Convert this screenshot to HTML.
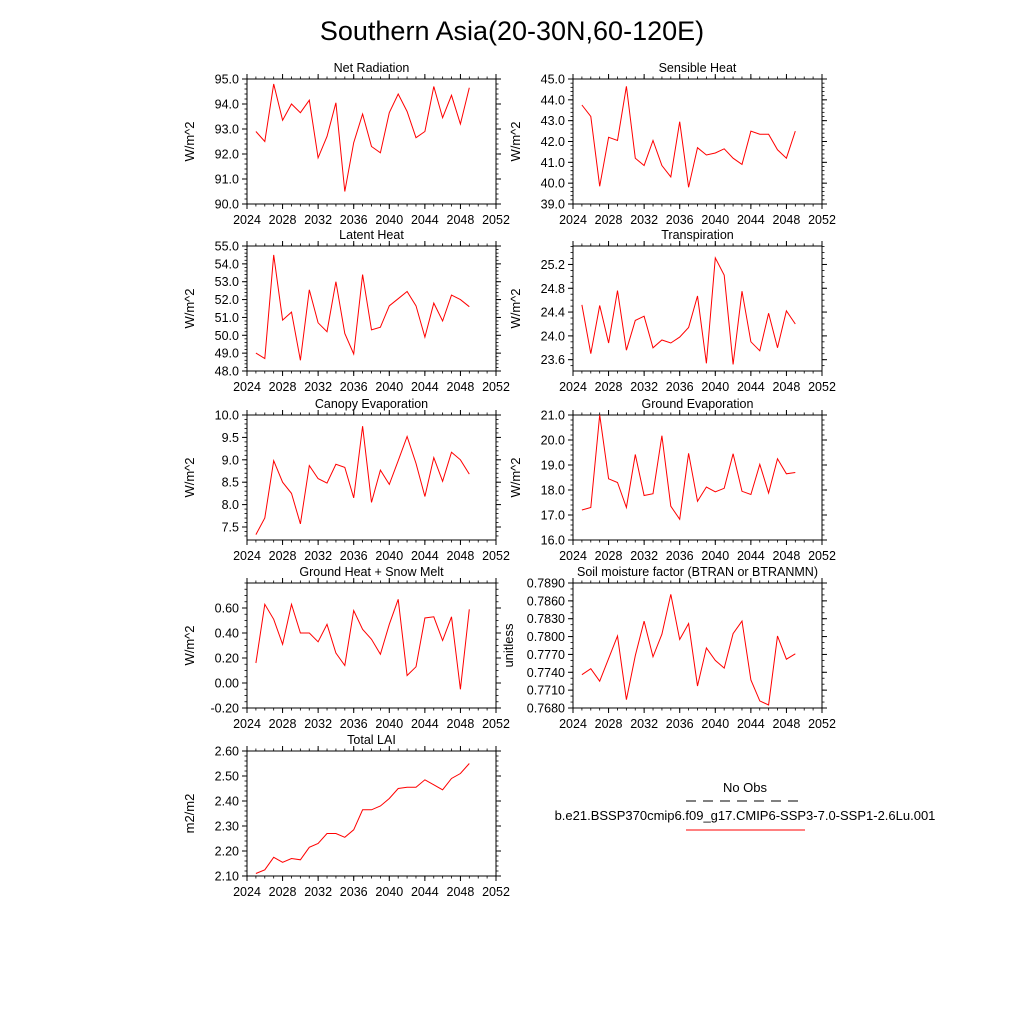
<!DOCTYPE html>
<html><head><meta charset="utf-8"><style>
html,body{margin:0;padding:0;background:#fff;}
svg{display:block;font-family:"Liberation Sans",sans-serif;}
</style></head><body>
<svg id="chart" width="1024" height="1024" viewBox="0 0 1024 1024" xmlns="http://www.w3.org/2000/svg">
<rect width="1024" height="1024" fill="#fff"/>
<text x="512" y="40" font-size="27" text-anchor="middle">Southern Asia(20-30N,60-120E)</text>
<g>
<text x="745" y="792" font-size="13" text-anchor="middle">No Obs</text>
<line x1="686" y1="801" x2="805" y2="801" stroke="#000" stroke-width="1" stroke-dasharray="10,7"/>
<text x="745" y="820" font-size="13" text-anchor="middle">b.e21.BSSP370cmip6.f09_g17.CMIP6-SSP3-7.0-SSP1-2.6Lu.001</text>
<line x1="686" y1="830" x2="805" y2="830" stroke="red" stroke-width="1"/>
</g>
</svg>
<script>
const years = [2025,2026,2027,2028,2029,2030,2031,2032,2033,2034,2035,2036,2037,2038,2039,2040,2041,2042,2043,2044,2045,2046,2047,2048,2049];
const xTicks = [2024,2028,2032,2036,2040,2044,2048,2052];
const netRad = [92.9,92.5,94.8,93.35,94.0,93.65,94.15,91.85,92.7,94.05,90.5,92.45,93.6,92.3,92.05,93.65,94.4,93.7,92.65,92.9,94.7,93.45,94.35,93.2,94.65];
const sensible = [43.75,43.2,39.85,42.2,42.05,44.65,41.2,40.85,42.05,40.85,40.3,42.95,39.8,41.7,41.35,41.45,41.65,41.2,40.9,42.5,42.35,42.35,41.6,41.2,42.5];
const latent = [49.0,48.7,54.5,50.85,51.3,48.6,52.55,50.7,50.2,53.0,50.1,48.95,53.4,50.3,50.45,51.65,52.05,52.45,51.65,49.9,51.8,50.8,52.25,52.0,51.6];
const transp = [24.52,23.70,24.51,23.88,24.76,23.76,24.26,24.33,23.80,23.93,23.88,23.98,24.14,24.67,23.54,25.31,25.02,23.52,24.75,23.90,23.75,24.38,23.80,24.42,24.20];
const canopy = [7.33,7.7,8.98,8.5,8.25,7.57,8.87,8.58,8.48,8.9,8.83,8.15,9.75,8.05,8.77,8.45,8.98,9.52,8.92,8.18,9.05,8.52,9.17,9.0,8.68];
const groundEvap = [17.2,17.3,21.0,18.45,18.3,17.3,19.42,17.78,17.85,20.17,17.35,16.83,19.47,17.55,18.12,17.93,18.07,19.45,17.95,17.82,19.03,17.88,19.25,18.65,18.7];
const groundHeat = [0.16,0.63,0.51,0.31,0.63,0.40,0.40,0.33,0.47,0.24,0.14,0.58,0.43,0.35,0.23,0.47,0.67,0.06,0.13,0.52,0.53,0.34,0.53,-0.05,0.59];
const btran = [0.7736,0.7746,0.7725,0.7763,0.7801,0.7694,0.7768,0.7826,0.7766,0.7804,0.7871,0.7795,0.7822,0.7717,0.7781,0.7760,0.7747,0.7805,0.7826,0.7727,0.7692,0.7685,0.7801,0.7762,0.7771];
const lai = [2.11,2.125,2.175,2.155,2.17,2.165,2.215,2.23,2.27,2.27,2.255,2.285,2.365,2.365,2.38,2.41,2.45,2.455,2.455,2.485,2.465,2.445,2.49,2.51,2.55];
const netRadTicks = [90,91,92,93,94,95];
const sensTicks = [39,40,41,42,43,44,45];
const latTicks = [48,49,50,51,52,53,54,55];
const trTicks = [23.6,24.0,24.4,24.8,25.2];
const canTicks = [7.5,8.0,8.5,9.0,9.5,10.0];
const geTicks = [16,17,18,19,20,21];
const ghTicks = [-0.2,0,0.2,0.4,0.6];
const btTicks = [0.768,0.771,0.774,0.777,0.780,0.783,0.786,0.789];
const laiTicks = [2.1,2.2,2.3,2.4,2.5,2.6];

const NS='http://www.w3.org/2000/svg';
const svg=document.getElementById('chart');
function mk(tag,attrs,parent){const e=document.createElementNS(NS,tag);for(const k in attrs)e.setAttribute(k,attrs[k]);parent.appendChild(e);return e;}

const panels=[
 {name:'net-radiation',title:'Net Radiation',unit:'W/m^2',x:247,y:79,data:netRad,ymin:90,ymax:95,ticks:netRadTicks,dec:1,minor:0.2},
 {name:'sensible-heat',title:'Sensible Heat',unit:'W/m^2',x:573,y:79,data:sensible,ymin:39,ymax:45,ticks:sensTicks,dec:1,minor:0.2},
 {name:'latent-heat',title:'Latent Heat',unit:'W/m^2',x:247,y:246,data:latent,ymin:48,ymax:55,ticks:latTicks,dec:1,minor:0.2},
 {name:'transpiration',title:'Transpiration',unit:'W/m^2',x:573,y:246,data:transp,ymin:23.41,ymax:25.51,ticks:trTicks,dec:1,minor:0.1},
 {name:'canopy-evaporation',title:'Canopy Evaporation',unit:'W/m^2',x:247,y:415,data:canopy,ymin:7.21,ymax:10,ticks:canTicks,dec:1,minor:0.1},
 {name:'ground-evaporation',title:'Ground Evaporation',unit:'W/m^2',x:573,y:415,data:groundEvap,ymin:16,ymax:21,ticks:geTicks,dec:1,minor:0.2},
 {name:'ground-heat-snow-melt',title:'Ground Heat + Snow Melt',unit:'W/m^2',x:247,y:583,data:groundHeat,ymin:-0.2,ymax:0.8,ticks:ghTicks,dec:2,minor:0.05},
 {name:'soil-moisture-factor',title:'Soil moisture factor (BTRAN or BTRANMN)',unit:'unitless',x:573,y:583,data:btran,ymin:0.768,ymax:0.789,ticks:btTicks,dec:4,minor:0.001},
 {name:'total-lai',title:'Total LAI',unit:'m2/m2',x:247,y:751,data:lai,ymin:2.1,ymax:2.6,ticks:laiTicks,dec:2,minor:0.02}
];
const W=249,H=125;
panels.forEach(p=>{
 const g=mk('g',{},svg);
 
 
 const xs=v=>p.x+(v-2024)/(2052-2024)*W;
 const ys=v=>p.y+H-(v-p.ymin)/(p.ymax-p.ymin)*H;
 // minor y ticks
 const start=Math.ceil(p.ymin/p.minor-1e-6);
 for(let k=start;k*p.minor<=p.ymax+1e-9;k++){const v=k*p.minor,y=ys(v);
  mk('line',{x1:p.x-2.5,y1:y,x2:p.x,y2:y,stroke:'#000','stroke-width':0.8},g);
  mk('line',{x1:p.x+W,y1:y,x2:p.x+W+2.5,y2:y,stroke:'#000','stroke-width':0.8},g);}
 for(let yr=2024;yr<=2052;yr++){const x=xs(yr);
  mk('line',{x1:x,y1:p.y+H,x2:x,y2:p.y+H+2.5,stroke:'#000','stroke-width':0.8},g);
  mk('line',{x1:x,y1:p.y-2.5,x2:x,y2:p.y,stroke:'#000','stroke-width':0.8},g);}
 p.ticks.forEach(v=>{const y=ys(v);
  mk('line',{x1:p.x-5,y1:y,x2:p.x,y2:y,stroke:'#000','stroke-width':1},g);
  mk('line',{x1:p.x+W,y1:y,x2:p.x+W+5,y2:y,stroke:'#000','stroke-width':1},g);
  const t=mk('text',{x:p.x-8,y:y+4.5,'font-size':12.5,'text-anchor':'end'},g);
  
  
  t.textContent=v.toFixed(p.dec);});
 xTicks.forEach(v=>{const x=xs(v);
  mk('line',{x1:x,y1:p.y+H,x2:x,y2:p.y+H+5,stroke:'#000','stroke-width':1},g);
  mk('line',{x1:x,y1:p.y-5,x2:x,y2:p.y,stroke:'#000','stroke-width':1},g);
  const t=mk('text',{x:x,y:p.y+H+20,'font-size':12.5,'text-anchor':'middle'},g);
  
  
  t.textContent=v;});
 const fr=mk('rect',{x:p.x,y:p.y,width:W,height:H,fill:'none',stroke:'#000','stroke-width':1},g);
 
 
 const tt=mk('text',{x:p.x+W/2,y:p.y-7,'font-size':12.5,'text-anchor':'middle'},g);
 
 
 tt.textContent=p.title;
 const ux=p.unit==='unitless'?p.x-60:p.x-53;
 const ut=mk('text',{x:ux,y:p.y+H/2,'font-size':13,'text-anchor':'middle',transform:`rotate(-90 ${ux} ${p.y+H/2})`},g);
 
 
 ut.textContent=p.unit;
 const pts=p.data.map((v,i)=>xs(years[i]).toFixed(1)+','+ys(v).toFixed(1)).join(' ');
 const pl=mk('polyline',{points:pts,fill:'none',stroke:'red','stroke-width':1},g);
 
 
});
</script>
</body></html>
